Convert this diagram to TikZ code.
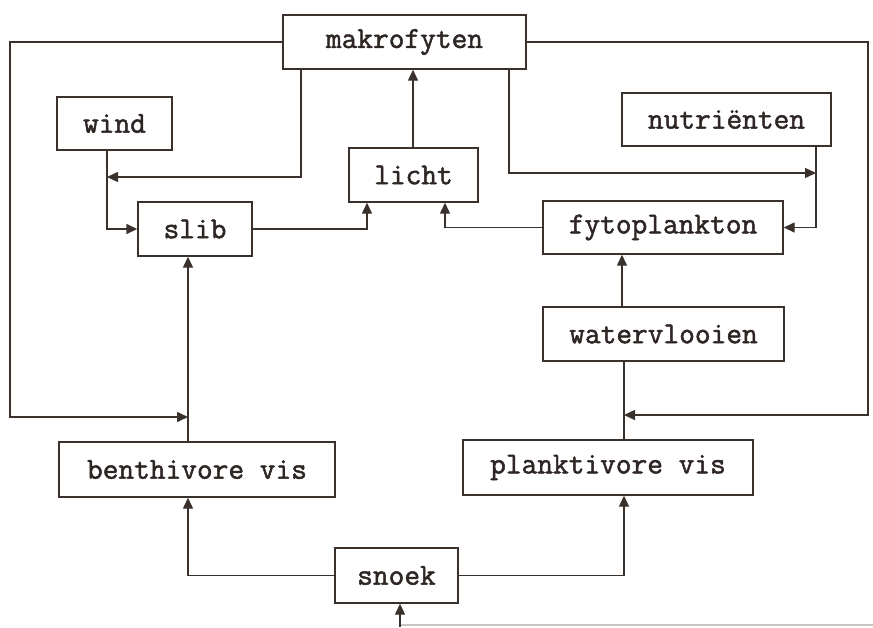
\documentclass[tikz,border=0pt]{standalone}
\usepackage{fontspec}
\newfontfamily\boxfont[FakeBold=1.6]{Latin Modern Mono}
\usetikzlibrary{arrows.meta}
\definecolor{ink}{HTML}{3A302C}
\definecolor{txt}{HTML}{2E2624}
\definecolor{faint}{HTML}{C8C4C0}
\tikzset{
  box/.style={draw=ink, line width=1.4pt, inner sep=0pt, text=txt,
    font=\boxfont\fontsize{30.5}{34}\selectfont},
  conn/.style={draw=ink, line width=1.4pt},
  arr/.style={conn, -{Triangle[length=11pt,width=10pt]}},
}
\begin{document}
\begin{tikzpicture}[x=1pt,y=-1pt]
\fill[white] (0,0) rectangle (873,627);
\useasboundingbox (0,0) rectangle (873,627);
% boxes
\node[box, minimum width=243pt, minimum height=54pt] (mak) at (404.5,42) {makrofyten};
\node[box, minimum width=115pt, minimum height=53pt] (wind) at (114.5,123.5) {wind};
\node[box, minimum width=209pt, minimum height=53pt] (nut) at (726.5,119.5) {nutriënten};
\node[box, minimum width=129pt, minimum height=54pt] (licht) at (413.5,175) {licht};
\node[box, minimum width=114pt, minimum height=54pt] (slib) at (195,229) {slib};
\node[box, minimum width=240pt, minimum height=53pt] (fyto) at (663,227.5) {fytoplankton};
\node[box, minimum width=241pt, minimum height=54pt] (water) at (663.5,334) {watervlooien};
\node[box, minimum width=276pt, minimum height=55pt] (benth) at (197,469.5) {benthivore vis};
\node[box, minimum width=290pt, minimum height=55pt] (plank) at (608,467.5) {planktivore vis};
\node[box, minimum width=123pt, minimum height=55pt] (snoek) at (396.5,575.5) {snoek};
% junction points
\coordinate (jb) at (188,417);
\coordinate (jw) at (107,177);
\coordinate (jn) at (816,173);
\coordinate (jp) at (624,415);
\coordinate (ml) at (301,0);
\coordinate (mr) at (509,0);
\coordinate (lx1) at (367,0);
\coordinate (lx2) at (445,0);
\coordinate (lm) at (413,0);
\coordinate (fx) at (622,0);
\coordinate (sb) at (400,627);
\coordinate (se) at (873,625);
% connectors
\draw[arr] (lm |- licht.north) -- (lm |- mak.south);
\draw[arr] (mak.west) -- (10,42) -- (10,417) -- (jb);
\draw[arr] (jb |- benth.north) -- (jb |- slib.south);
\draw[arr] (ml |- mak.south) -- (ml |- jw) -- (jw);
\draw[arr] (jw |- wind.south) -- (jw |- slib.west) -- (slib.west);
\draw[arr] (slib.east) -| (lx1 |- licht.south);
\draw[arr] (fyto.west) -| (lx2 |- licht.south);
\draw[arr] (mr |- mak.south) -- (mr |- jn) -- (jn);
\draw[arr] (jn |- nut.south) -- (jn |- fyto.east) -- (fyto.east);
\draw[arr] (fx |- water.north) -- (fx |- fyto.south);
\draw[conn] (jp |- water.south) -- (jp |- plank.north);
\draw[arr] (mak.east) -- (868,42) -- (868,415) -- (jp);
\draw[arr] (snoek.west) -| (jb |- benth.south);
\draw[arr] (snoek.east) -| (jp |- plank.south);
\draw[faint, line width=1.4pt] (sb |- se) -- (se);
\draw[arr] (sb) -- (sb |- snoek.south);
\end{tikzpicture}
\end{document}
